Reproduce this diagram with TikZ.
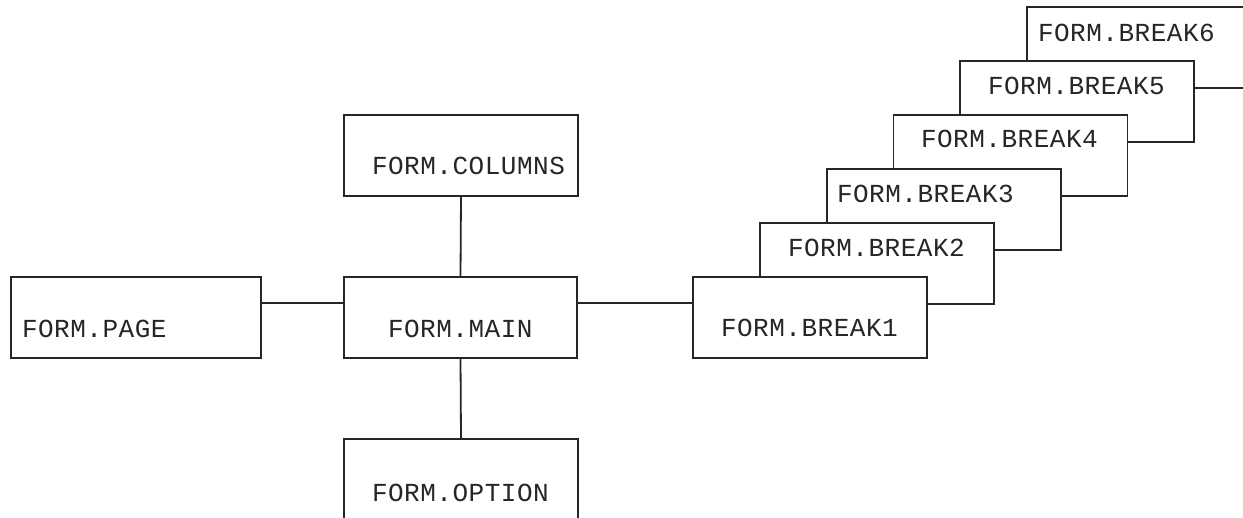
\documentclass[tikz,border=0pt]{standalone}
\usepackage{fontspec}
\newfontfamily\boxfont[LetterSpace=2]{Liberation Mono}
\begin{document}
\begin{tikzpicture}[x=1pt,y=-1pt,
  box/.style={draw=black!85, line width=1.8pt, fill=white, rectangle, inner sep=0pt, outer sep=0pt, minimum width=234pt, minimum height=81pt},
  lbl/.style={anchor=base west, inner sep=0pt, outer sep=0pt, text=black!85, font=\boxfont\fontsize{26}{30}\selectfont},
  link/.style={draw=black!85, line width=1.8pt}]
\useasboundingbox (0,0) rectangle (1243,518);
\clip (0,0) rectangle (1243,518);
% main group
\node[box, minimum width=250pt] (page) at (136,317.5) {};
\node[box, minimum width=233pt] (main) at (460.5,317.5) {};
\node[box] (columns) at (461,155.5) {};
\node[box] (option) at (461,479.5) {};
\node[lbl] (tpage) at (22,338) {FORM.PAGE};
\node[lbl] (tmain) at (388,338) {FORM.MAIN};
\node[lbl] (tcolumns) at (372,175) {FORM.COLUMNS};
\node[lbl] (toption) at (372,501) {FORM.OPTION};
% break stack
\node[box] (b6) at (1144,47.5) {};
\node[lbl] (t6) at (1038,42) {FORM.BREAK6};
\node[box] (b5) at (1077.2,101.5) {};
\node[lbl] (t5) at (988,95) {FORM.BREAK5};
\node[box] (b4) at (1010.4,155.5) {};
\node[lbl] (t4) at (921,148) {FORM.BREAK4};
\node[box] (b3) at (943.6,209.5) {};
\node[lbl] (t3) at (837,203) {FORM.BREAK3};
\node[box] (b2) at (876.8,263.5) {};
\node[lbl] (t2) at (788,257) {FORM.BREAK2};
\node[box] (b1) at (810,317.5) {};
\node[lbl] (t1) at (721,337) {FORM.BREAK1};
% connectors
\draw[link] ([yshift=-26pt]page.north east) -- ([yshift=-26pt]main.north west);
\draw[link] ([yshift=-26pt]main.north east) -- ([yshift=-26pt]b1.north west);
\draw[link] (columns.south) -- (main.north);
\draw[link] (main.south) -- (option.north);
\end{tikzpicture}
\end{document}
